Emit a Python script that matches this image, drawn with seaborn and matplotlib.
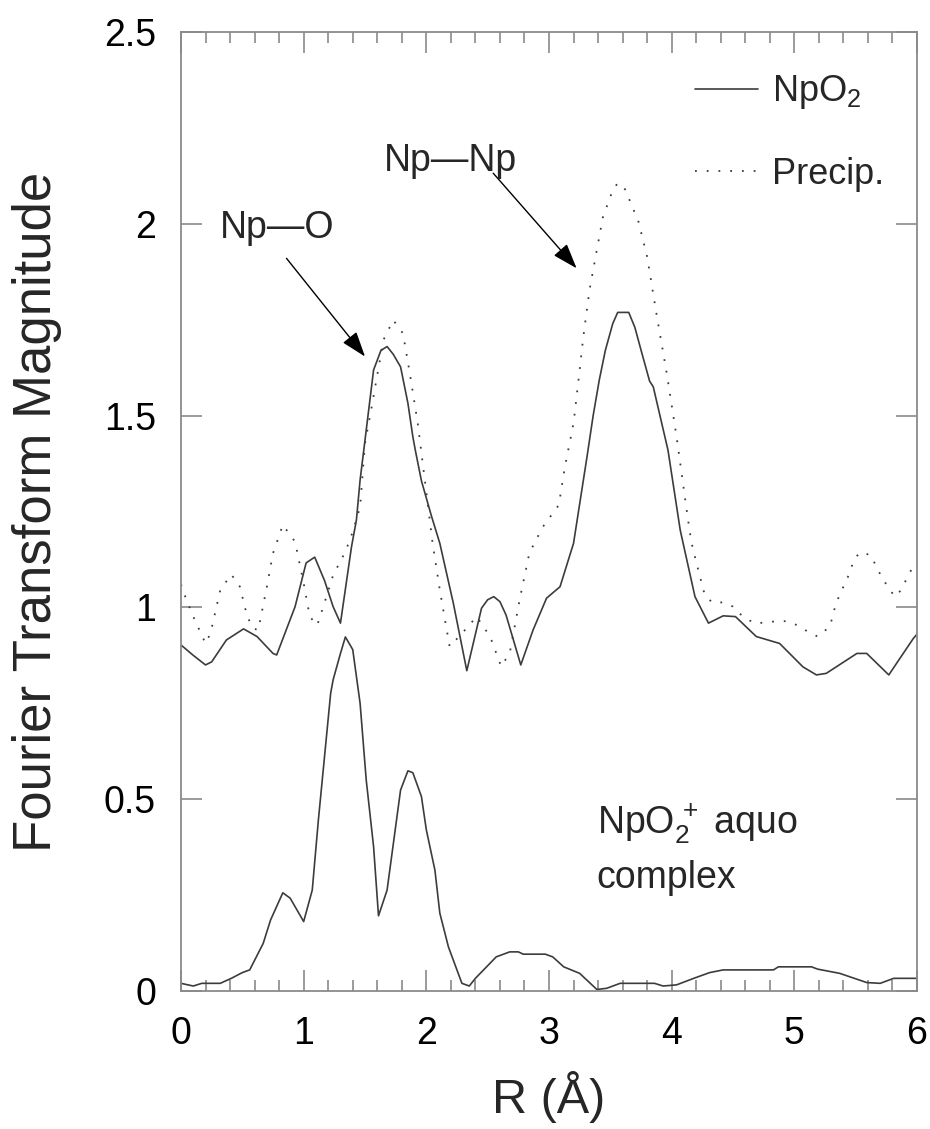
import matplotlib
matplotlib.use("Agg")
import matplotlib.pyplot as plt
from matplotlib import font_manager
from matplotlib.ticker import MultipleLocator, FuncFormatter
from matplotlib.lines import Line2D
import seaborn as sns
import pandas as pd

# ---------------- data ----------------
npo2_r = [0.00, 0.10, 0.20, 0.25, 0.37, 0.51, 0.62, 0.75, 0.78, 0.93, 1.02, 1.09, 1.17, 1.24,
          1.30, 1.39, 1.43, 1.46, 1.49, 1.57, 1.63, 1.68, 1.73, 1.79, 1.85, 1.89, 1.91, 1.96,
          2.04, 2.11, 2.22, 2.33, 2.45, 2.50, 2.55, 2.60, 2.65, 2.77, 2.87, 2.98, 3.09, 3.20,
          3.31, 3.36, 3.41, 3.46, 3.52, 3.56, 3.65, 3.70, 3.75, 3.82, 3.85, 3.97, 4.07, 4.19,
          4.30, 4.42, 4.52, 4.69, 4.88, 5.07, 5.18, 5.26, 5.51, 5.59, 5.77, 5.97, 6.00]
npo2_ft = [0.902, 0.875, 0.850, 0.858, 0.915, 0.944, 0.924, 0.880, 0.876, 1.002, 1.116, 1.131, 1.070, 1.002,
           0.959, 1.158, 1.228, 1.332, 1.410, 1.619, 1.670, 1.680, 1.660, 1.627, 1.532, 1.445, 1.410, 1.330,
           1.240, 1.167, 1.011, 0.835, 0.998, 1.020, 1.028, 1.015, 0.980, 0.850, 0.941, 1.024, 1.054, 1.167,
           1.393, 1.500, 1.593, 1.671, 1.740, 1.769, 1.769, 1.730, 1.671, 1.590, 1.575, 1.410, 1.201, 1.028,
           0.959, 0.978, 0.976, 0.924, 0.906, 0.845, 0.824, 0.828, 0.880, 0.880, 0.824, 0.919, 0.930]

precip_r = [0.00, 0.03, 0.10, 0.20, 0.24, 0.32, 0.41, 0.48, 0.54, 0.59, 0.63, 0.70, 0.75, 0.83,
            0.93, 1.00, 1.05, 1.11, 1.16, 1.24, 1.34, 1.40, 1.46, 1.50, 1.55, 1.65, 1.73, 1.81,
            1.87, 1.93, 2.00, 2.05, 2.11, 2.19, 2.29, 2.41, 2.52, 2.61, 2.68, 2.76, 2.84, 2.95,
            3.08, 3.13, 3.20, 3.25, 3.28, 3.33, 3.39, 3.44, 3.52, 3.56, 3.62, 3.73, 3.80, 3.88,
            3.96, 4.04, 4.13, 4.16, 4.21, 4.27, 4.33, 4.42, 4.50, 4.58, 4.68, 4.86, 4.94, 5.02,
            5.11, 5.19, 5.29, 5.34, 5.40, 5.45, 5.48, 5.53, 5.62, 5.67, 5.71, 5.77, 5.82, 5.87,
            5.91, 5.96, 6.00]
precip_ft = [1.060, 1.032, 0.976, 0.906, 0.932, 1.045, 1.086, 1.054, 0.976, 0.945, 0.941, 1.054, 1.141, 1.215,
             1.171, 1.063, 0.976, 0.953, 1.002, 1.084, 1.145, 1.197, 1.262, 1.428, 1.515, 1.697, 1.749, 1.714,
             1.601, 1.480, 1.300, 1.170, 1.045, 0.898, 0.932, 0.976, 0.924, 0.846, 0.881, 1.019, 1.142, 1.210,
             1.267, 1.367, 1.480, 1.619, 1.706, 1.827, 1.932, 2.018, 2.088, 2.106, 2.090, 2.005, 1.914, 1.758,
             1.610, 1.445, 1.236, 1.171, 1.106, 1.032, 1.013, 1.013, 1.002, 0.976, 0.958, 0.964, 0.964, 0.954,
             0.937, 0.924, 0.950, 1.011, 1.054, 1.089, 1.119, 1.143, 1.137, 1.106, 1.080, 1.050, 1.028, 1.045,
             1.071, 1.102, 1.120]

aquo_r = [0.00, 0.10, 0.17, 0.32, 0.41, 0.50, 0.56, 0.67, 0.73, 0.83, 0.89, 1.00, 1.07, 1.12,
          1.17, 1.22, 1.24, 1.30, 1.34, 1.40, 1.46, 1.51, 1.57, 1.61, 1.68, 1.79, 1.85, 1.89,
          1.96, 2.00, 2.07, 2.11, 2.18, 2.29, 2.35, 2.40, 2.57, 2.68, 2.75, 2.79, 2.97, 3.03,
          3.12, 3.25, 3.39, 3.47, 3.58, 3.86, 3.93, 4.04, 4.18, 4.31, 4.42, 4.83, 4.87, 5.14,
          5.19, 5.37, 5.59, 5.70, 5.81, 5.97, 6.00]
aquo_ft = [0.020, 0.013, 0.020, 0.020, 0.033, 0.048, 0.055, 0.124, 0.185, 0.256, 0.242, 0.181, 0.263, 0.446,
           0.611, 0.776, 0.811, 0.880, 0.923, 0.890, 0.750, 0.550, 0.376, 0.196, 0.263, 0.524, 0.574, 0.569,
           0.507, 0.420, 0.315, 0.203, 0.115, 0.020, 0.013, 0.033, 0.089, 0.102, 0.102, 0.096, 0.096, 0.089,
           0.063, 0.046, 0.004, 0.007, 0.020, 0.020, 0.013, 0.016, 0.033, 0.048, 0.055, 0.055, 0.063, 0.063,
           0.057, 0.046, 0.022, 0.020, 0.033, 0.033, 0.033]

x_ticks = [0, 1, 2, 3, 4, 5, 6]
y_ticks = [0, 0.5, 1, 1.5, 2, 2.5]
legend_labels = [r"NpO$_2$", "Precip."]
annotations = ["Np\u2014O", "Np\u2014Np"]
aquo_label = "NpO$_2^{\\,+}$ aquo\ncomplex"
x_label = "R (\u00c5)"
y_label = "Fourier Transform Magnitude"

# ---------------- style ----------------
sns.set_theme(style="ticks")
names = {f.name for f in font_manager.fontManager.ttflist}
fam = "Liberation Sans Narrow" if "Liberation Sans Narrow" in names else "Liberation Sans"
plt.rcParams["font.family"] = [fam, "DejaVu Sans"]
plt.rcParams["mathtext.fontset"] = "custom"
plt.rcParams["mathtext.rm"] = fam
plt.rcParams["mathtext.it"] = fam
plt.rcParams["mathtext.default"] = "regular"

LINE = "#3c3c3c"
SPINE = "#8a8a8a"

fig = plt.figure(figsize=(9.3, 11.29), dpi=100)
ax = fig.add_axes([181 / 930, 1 - 991 / 1129, (917 - 181) / 930, (991 - 32) / 1129])

df_np = pd.DataFrame({"R": npo2_r, "FT": npo2_ft})
df_pr = pd.DataFrame({"R": precip_r, "FT": precip_ft})
df_aq = pd.DataFrame({"R": aquo_r, "FT": aquo_ft})

sns.lineplot(data=df_np, x="R", y="FT", ax=ax, color=LINE, lw=1.2, sort=False)
sns.lineplot(data=df_pr, x="R", y="FT", ax=ax, color=LINE, lw=1.3, sort=False,
             dashes=False, linestyle=(0, (1.0, 5.5)))
sns.lineplot(data=df_aq, x="R", y="FT", ax=ax, color=LINE, lw=1.2, sort=False)

ax.set_xlim(x_ticks[0], x_ticks[-1])
ax.set_ylim(y_ticks[0], y_ticks[-1])
ax.set_xticks(x_ticks)
ax.set_yticks(y_ticks)
ax.xaxis.set_minor_locator(MultipleLocator(0.2))
ax.yaxis.set_major_formatter(FuncFormatter(lambda v, p: f"{v:g}"))
ax.xaxis.set_major_formatter(FuncFormatter(lambda v, p: f"{v:g}"))

for s in ax.spines.values():
    s.set_color(SPINE)
    s.set_linewidth(1.3)
    s.set_visible(True)

ax.tick_params(which="major", direction="in", top=True, right=True, length=15, width=1.2,
               color=SPINE, labelsize=27, pad=18, labelcolor="black")
ax.tick_params(which="minor", direction="in", top=True, bottom=True, length=8, width=1.2,
               color=SPINE)
ax.tick_params(axis="y", which="minor", left=False, right=False)

ax.set_xlabel(x_label, fontsize=35, labelpad=14)
ax.set_ylabel(y_label, fontsize=38, labelpad=30)

# legend
handles = [Line2D([], [], color=LINE, lw=1.2),
           Line2D([], [], color=LINE, lw=1.3, linestyle=(0, (1.0, 5.5)))]
ax.legend(handles, legend_labels, loc="upper right", bbox_to_anchor=(0.955, 0.957),
          frameon=False, fontsize=26, handlelength=1.75, handletextpad=0.38,
          labelspacing=1.27, borderaxespad=0, borderpad=0)

# annotations with arrows
arrow_kw = dict(arrowstyle="-|>,head_length=1.3,head_width=0.45", color="black", lw=1.0,
                shrinkA=0, shrinkB=0)
ax.annotate("", xy=(1.50, 1.654), xytext=(0.86, 1.91), arrowprops=arrow_kw)
ax.annotate("", xy=(3.225, 1.884), xytext=(2.545, 2.132), arrowprops=arrow_kw)
ax.text(0.32, 1.99, annotations[0], fontsize=27, ha="left", va="center")
ax.text(1.65, 2.165, annotations[1], fontsize=27, ha="left", va="center")
ax.text(3.39, 0.372, aquo_label, fontsize=27, ha="left", va="center", linespacing=1.5)

fig.savefig("out.png", dpi=100)
